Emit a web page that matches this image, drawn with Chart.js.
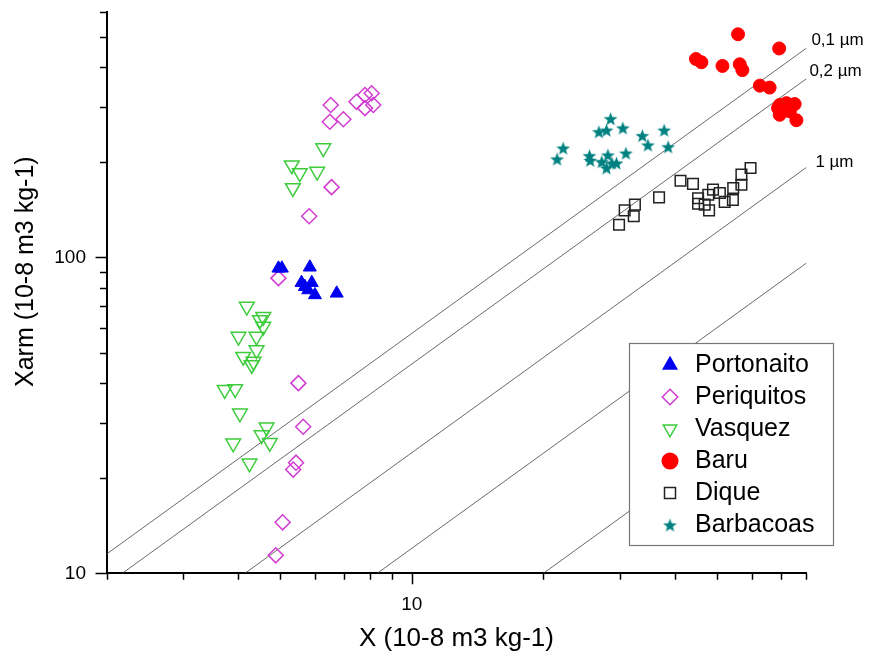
<!DOCTYPE html>
<html>
<head>
<meta charset="utf-8">
<script src="https://cdn.jsdelivr.net/npm/chart.js@4.4.1/dist/chart.umd.min.js"></script>
<style>
  html, body { margin: 0; padding: 0; background: #fff; }
  #wrap { width: 871px; height: 656px; }
</style>
</head>
<body>
<div id="wrap"><canvas id="xarmChart" width="871" height="656"></canvas></div>
<script>
// values (X and Xarm, 10-8 m3 kg-1)
const portonaitoX = [4.95, 5.04, 5.84, 5.59, 5.90, 5.69, 5.79, 6.00, 6.73];
const portonaitoY = [92.4, 92.4, 93.1, 83.2, 83.2, 80.8, 78.9, 76.1, 77.0];

const periquitosX = [6.52, 7.47, 7.81, 8.09, 8.16, 7.81, 6.49, 6.97, 6.55, 5.82, 4.95, 5.50, 5.64, 5.43, 5.35, 5.06, 4.88];
const periquitosY = [304, 311, 327, 331, 304, 297, 269, 274, 167, 135, 86.0, 40.0, 29.1, 22.4, 21.3, 14.5, 11.4];

const vasquezX = [6.27, 5.31, 5.54, 6.07, 5.34, 4.19, 4.57, 4.49, 4.57, 4.01, 4.41, 4.41, 4.11, 4.34, 4.30, 3.73, 3.94, 4.04, 4.65, 4.53, 4.73, 3.90, 4.25];
const vasquezY = [222, 196, 185, 187, 166, 69.9, 64.9, 63.4, 60.4, 56.2, 56.2, 50.9, 48.5, 46.8, 45.7, 38.1, 38.3, 32.1, 29.0, 27.4, 25.9, 25.8, 22.3];

const baruX = [55.8, 69.3, 44.7, 46.0, 51.4, 56.3, 57.1, 62.6, 65.9, 69.5, 72.0, 75.2, 69.5, 73.3, 75.9, 68.9];
const baruY = [509, 459, 425, 415, 404, 409, 392, 350, 345, 304, 308, 306, 283, 290, 272, 297];

const diqueX = [59.6, 56.8, 56.8, 54.4, 54.3, 50.7, 48.9, 47.7, 45.2, 45.2, 47.9, 46.8, 52.0, 44.0, 41.2, 36.8, 32.4, 30.7, 32.2, 29.8];
const diqueY = [192, 183, 170, 166, 152, 160, 164, 158, 154, 148, 141, 147, 150, 171, 175, 155, 147, 141, 135, 127];

const barbacoasX = [28.5, 26.8, 27.9, 30.4, 33.7, 37.8, 34.7, 38.6, 22.2, 21.5, 25.5, 30.9, 28.1, 27.2, 28.7, 29.4, 27.9, 25.6];
const barbacoasY = [275, 250, 253, 257, 243, 253, 227, 224, 222, 205, 210, 214, 211, 201, 199, 199, 192, 203];

// reference lines Xarm = k * X (grain size)
const grainFactors = [5.75, 4.6, 2.41, 1.2, 0.5];
const grainLabels  = ["0,1 \u00b5m", "0,2 \u00b5m", "1 \u00b5m", "", ""];

const xMin = 2, xMax = 80, yMin = 10, yMax = 600;
const xTickValues = [2, 3, 4, 5, 6, 7, 8, 9, 10, 20, 30, 40, 50, 60, 70, 80];
const xTickLabels = ["", "", "", "", "", "", "", "", "10", "", "", "", "", "", "", ""];
const yTickValues = [10, 20, 30, 40, 50, 60, 70, 80, 90, 100, 200, 300, 400, 500, 600];
const yTickLabels = ["10", "", "", "", "", "", "", "", "", "100", "", "", "", "", ""];

const FONT = "'Liberation Sans', Arial, sans-serif";
const legendFrame = { x: 629, y: 343, w: 204, h: 202 };
const labelShift = [[5, -8], [3, -7], [9, -5]];   // text offset from each line end

function pts(xs, ys) {
  return xs.map((x, i) => ({ x: x, y: ys[i] }));
}

function starImage(color, outer, inner) {
  const c = document.createElement("canvas");
  const s = Math.ceil(outer * 2 + 2);
  c.width = c.height = s;
  const g = c.getContext("2d");
  g.translate(s / 2, s / 2 + 0.7);
  g.beginPath();
  for (let i = 0; i < 10; i++) {
    const r = i % 2 ? inner : outer;
    const a = -Math.PI / 2 + i * Math.PI / 5;
    g.lineTo(r * Math.cos(a), r * Math.sin(a));
  }
  g.closePath();
  g.fillStyle = color;
  g.fill();
  return c;
}

/* ── tick marks: long at labelled decades, short elsewhere ── */
const axisTicks = {
  id: "axisTicks",
  afterDraw(chart) {
    const ctx = chart.ctx;
    const xs = chart.scales.x, ys = chart.scales.y;
    ctx.save();
    ctx.strokeStyle = "#000";
    ctx.lineWidth = 1.5;
    ctx.beginPath();
    xs.ticks.forEach((t, i) => {
      const px = Math.round(xs.getPixelForValue(t.value)) + 0.5;
      const len = xTickLabels[i] ? 11 : 6.5;
      ctx.moveTo(px, xs.top);
      ctx.lineTo(px, xs.top + len);
    });
    ys.ticks.forEach((t, i) => {
      const py = Math.round(ys.getPixelForValue(t.value)) + 0.5;
      const len = yTickLabels[i] ? 11 : 6.5;
      ctx.moveTo(ys.right, py);
      ctx.lineTo(ys.right - len, py);
    });
    ctx.stroke();
    ctx.restore();
  }
};

/* ── labels at the right end of the grain-size lines ── */
const grainLineLabels = {
  id: "grainLineLabels",
  afterDraw(chart) {
    const ctx = chart.ctx;
    const xs = chart.scales.x, ys = chart.scales.y;
    ctx.save();
    ctx.fillStyle = "#000";
    ctx.font = "17px " + FONT;
    ctx.textAlign = "left";
    ctx.textBaseline = "middle";
    grainFactors.forEach((k, i) => {
      if (!grainLabels[i]) return;
      const py = ys.getPixelForValue(xMax * k);
      ctx.fillText(grainLabels[i], xs.right + labelShift[i][0], py + labelShift[i][1]);
    });
    ctx.restore();
  }
};

/* ── legend framed inside the plot, drawn above the lines ── */
const legendBox = {
  id: "legendBox",
  afterLayout(chart) {
    const lg = chart.legend;
    lg.left = legendFrame.x + 21.5;
    lg.top = legendFrame.y + 2.5;
    lg.right = legendFrame.x + legendFrame.w;
    lg.bottom = legendFrame.y + legendFrame.h + 20;
  },
  afterDatasetsDraw(chart) {
    const ctx = chart.ctx;
    ctx.save();
    ctx.fillStyle = "#fff";
    ctx.strokeStyle = "#777";
    ctx.lineWidth = 1.2;
    ctx.fillRect(legendFrame.x, legendFrame.y, legendFrame.w, legendFrame.h);
    ctx.strokeRect(legendFrame.x + 0.5, legendFrame.y + 0.5, legendFrame.w, legendFrame.h);
    ctx.restore();
    chart.legend.draw();
  }
};

const seriesStyle = (label, xs, ys, extra) => Object.assign({
  label: label,
  data: pts(xs, ys),
  showLine: false,
  clip: false,
  borderWidth: 1.5
}, extra);

const datasets = [
  seriesStyle("Portonaito", portonaitoX, portonaitoY, {
    pointStyle: "triangle", pointRadius: 7.5, backgroundColor: "#0000f0", borderColor: "#0000f0", borderWidth: 1
  }),
  seriesStyle("Periquitos", periquitosX, periquitosY, {
    pointStyle: "rectRot", pointRadius: 7.5, backgroundColor: "rgba(0,0,0,0)", borderColor: "#d23cd2"
  }),
  seriesStyle("Vasquez", vasquezX, vasquezY, {
    pointStyle: "triangle", pointRotation: 180, pointRadius: 8.5, backgroundColor: "rgba(0,0,0,0)", borderColor: "#3ccc3c"
  }),
  seriesStyle("Baru", baruX, baruY, {
    pointStyle: "circle", pointRadius: 6.5, backgroundColor: "#ff0000", borderColor: "#ff0000", borderWidth: 1
  }),
  seriesStyle("Dique", diqueX, diqueY, {
    pointStyle: "rect", pointRadius: 7.5, backgroundColor: "rgba(0,0,0,0)", borderColor: "#222"
  }),
  seriesStyle("Barbacoas", barbacoasX, barbacoasY, {
    pointStyle: starImage("#008080", 7.2, 3.0), pointRadius: 7, backgroundColor: "#008080", borderColor: "#008080"
  })
];

grainFactors.forEach(k => {
  datasets.push({
    label: "",
    data: [{ x: xMin, y: xMin * k }, { x: xMax, y: xMax * k }],
    showLine: true,
    pointRadius: 0,
    borderColor: "#444",
    borderWidth: 0.8
  });
});

new Chart(document.getElementById("xarmChart"), {
  type: "scatter",
  data: { datasets: datasets },
  options: {
    responsive: false,
    animation: false,
    devicePixelRatio: 1,
    events: [],
    layout: { padding: { top: 11.7, right: 64.6, bottom: 0, left: 0 } },
    scales: {
      x: {
        type: "logarithmic",
        position: "bottom",
        min: xMin, max: xMax,
        afterBuildTicks: s => { s.ticks = xTickValues.map(v => ({ value: v })); },
        afterFit: s => { s.height = 82.7; s.paddingLeft = 0; s.paddingRight = 0; },
        grid: { display: false, drawTicks: false },
        border: { display: true, color: "#000", width: 2 },
        ticks: {
          autoSkip: false, maxRotation: 0, padding: 20, color: "#000",
          font: { family: FONT, size: 19 },
          callback: (v, i) => xTickLabels[i]
        },
        title: {
          display: true, text: "X (10-8 m3 kg-1)", color: "#000",
          font: { family: FONT, size: 26 },
          padding: { top: 0, bottom: 2 }
        }
      },
      y: {
        type: "logarithmic",
        position: "left",
        min: yMin, max: yMax,
        afterBuildTicks: s => { s.ticks = yTickValues.map(v => ({ value: v })); },
        afterFit: s => { s.width = 106.5; s.paddingTop = 0; s.paddingBottom = 0; },
        grid: { display: false, drawTicks: false },
        border: { display: true, color: "#000", width: 2 },
        ticks: {
          autoSkip: false, padding: 20.5, color: "#000",
          font: { family: FONT, size: 19 },
          callback: (v, i) => yTickLabels[i]
        },
        title: {
          display: true, text: "      Xarm (10-8 m3 kg-1)", color: "#000",
          font: { family: FONT, size: 25 },
          padding: { top: 11, bottom: 0 }
        }
      }
    },
    plugins: {
      tooltip: { enabled: false },
      legend: {
        position: "chartArea",
        align: "start",
        labels: {
          usePointStyle: true,
          boxHeight: 11,
          padding: 7,
          color: "#000",
          font: { family: FONT, size: 25 },
          filter: item => item.text !== "",
          generateLabels: chart => Chart.defaults.plugins.legend.labels.generateLabels(chart)
            .map(item => Object.assign(item, { lineWidth: 1.5 }))
        }
      }
    }
  },
  plugins: [axisTicks, grainLineLabels, legendBox]
});
</script>
</body>
</html>
